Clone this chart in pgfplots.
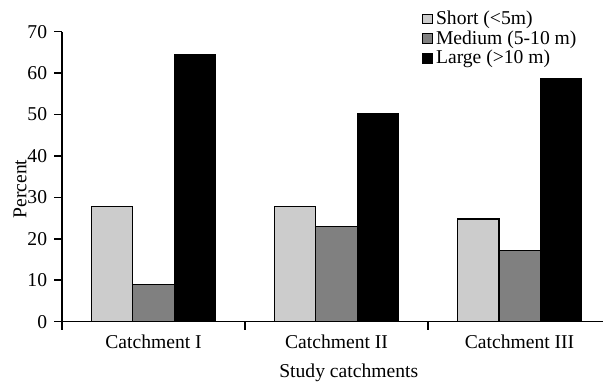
\documentclass[border=0pt]{standalone}
\usepackage{fontspec}
\setmainfont{Liberation Serif}
\usepackage{pgfplots}
\pgfplotsset{compat=1.18}
\begin{document}
\fontsize{9.8pt}{11.5pt}\selectfont
\begin{tikzpicture}
\useasboundingbox (0,0) rectangle (301.5pt,191.5pt);
\begin{axis}[
  at={(31pt,30.65pt)}, anchor=south west,
  width=270.5pt, height=145pt, scale only axis,
  xmin=-0.5, xmax=2.456, ymin=0, ymax=70,
  ybar=0pt, bar width=20.65pt,
  axis x line*=bottom, axis y line*=left,
  axis line style={line width=0.8pt, black},
  xtick={-0.5,0.5,1.5}, xticklabels={},
  extra x ticks={0,1,2},
  extra x tick labels={Catchment I, Catchment II, Catchment III},
  extra x tick style={major tick length=0pt, xticklabel style={yshift=-3pt}},
  ytick={0,10,...,70},
  tick align=outside, major tick length=4pt,
  tick style={black, line width=0.8pt},
  ticklabel style={font=\fontsize{9.8pt}{11.5pt}\selectfont},
  /pgf/number format/assume math mode=true,
  xlabel={Study catchments}, ylabel={Percent},
  xlabel style={at={(axis description cs:0.53,-0.177)}, anchor=center},
  ylabel style={at={(axis description cs:-0.0776,0.4576)}, anchor=center},
  label style={font=\fontsize{9.8pt}{11.5pt}\selectfont},
  legend style={at={(0.665,1.080)}, anchor=north west, draw=none, fill=none,
    font=\fontsize{9.8pt}{11.5pt}\selectfont, row sep=-0.5pt, inner sep=0pt,
    nodes={inner sep=1pt}},
  legend cell align=left,
  legend image code/.code={\draw[#1, line width=0.5pt] (0pt,-2.4pt) rectangle (4.8pt,2.4pt); \path (5.4pt,0pt);},
]
\addplot[draw=black, line width=0.6pt, fill=black!20] coordinates {(0,27.9) (1,27.9) (2,24.8)};
\addplot[draw=black, line width=0.6pt, fill=black!50] coordinates {(0,8.9) (1,22.9) (2,17.2)};
\addplot[draw=black, line width=0.6pt, fill=black] coordinates {(0,64.5) (1,50.2) (2,58.75)};
\legend{Short (<5m), Medium (5-10 m), Large (>10 m)}
\end{axis}
\end{tikzpicture}
\end{document}
